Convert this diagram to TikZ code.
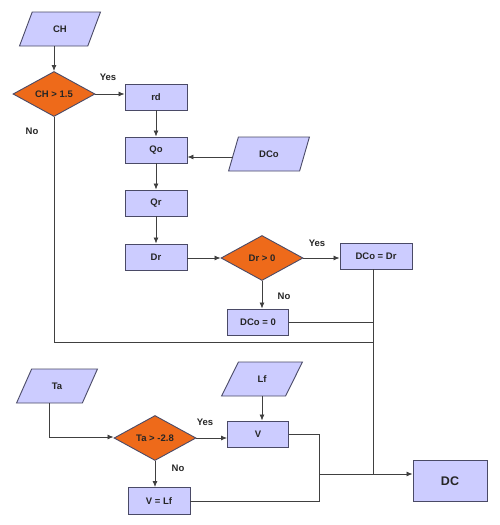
\documentclass[tikz,border=0pt]{standalone}
\usepackage{fontspec}
\setmainfont{Liberation Sans}
\usetikzlibrary{shapes.geometric,arrows.meta}
\definecolor{boxfill}{HTML}{CCCCFF}
\definecolor{boxline}{HTML}{4A4A66}
\definecolor{decfill}{HTML}{EE6A1A}
\definecolor{lineclr}{HTML}{404040}
\begin{document}
\begin{tikzpicture}[x=1pt,y=-1pt,
  every node/.style={font=\fontsize{9.5}{11}\selectfont\bfseries, text=black!85},
  procbox/.style={rectangle, draw=boxline, fill=boxfill, line width=0.9pt, minimum height=26pt, inner sep=0pt},
  iobox/.style={trapezium, trapezium left angle=65, trapezium right angle=115, trapezium stretches=true, draw=boxline, fill=boxfill, line width=0.9pt, minimum width=81pt, minimum height=34pt, inner sep=0pt},
  decbox/.style={diamond, aspect=2, draw=boxline, fill=decfill, line width=0.9pt, minimum width=82pt, minimum height=45pt, inner sep=0pt},
  conn/.style={draw=lineclr, line width=0.8pt},
  arr/.style={conn, -{Latex[length=6pt,width=5pt]}},
  lbl/.style={font=\fontsize{9.5}{11}\selectfont\bfseries, text=black!85}
]
\useasboundingbox (0,0) rectangle (500,525);

% top part
\node[iobox] (CH) at (60,29) {CH};
\node[decbox] (d1) at (54,94) {CH > 1.5};
\node[procbox, minimum width=62pt] (rd) at (156,97) {rd};
\node[procbox, minimum width=62pt] (Qo) at (156,150) {Qo};
\node[iobox] (DCo) at (269,154) {DCo};
\node[procbox, minimum width=62pt] (Qr) at (156,203) {Qr};
\node[procbox, minimum width=62pt] (Dr) at (156,257) {Dr};
\node[decbox] (d2) at (262,258) {Dr > 0};
\node[procbox, minimum width=72pt] (DCoDr) at (376,256) {DCo = Dr};
\node[procbox, minimum width=61pt] (DCo0) at (258,322) {DCo = 0};

% bottom part
\node[iobox] (Ta) at (57,386) {Ta};
\node[decbox] (d3) at (155,438) {Ta > -2.8};
\node[iobox] (Lf) at (262,379) {Lf};
\node[procbox, minimum width=61pt] (V) at (258,434) {V};
\node[procbox, minimum width=62pt, minimum height=27pt] (VLf) at (159,501) {V = Lf};
\node[procbox, minimum width=74pt, minimum height=41pt, font=\fontsize{12.5}{14}\selectfont\bfseries] (DC) at (450,481) {DC};

\coordinate (c1) at (54,342);
\coordinate (c2) at (373,342);
\coordinate (c3) at (373,322);
\coordinate (c4) at (373,474);
\coordinate (c5) at (319,434);
\coordinate (c6) at (319,501);
\coordinate (c7) at (319,474);
\coordinate (c8) at (49,437);

% connectors top
\draw[arr] (d1.north |- CH.south) -- (d1.north);
\draw[arr] (d1.east) -- (rd.west |- d1.east);
\node[lbl] (yes1) at (108,77) {Yes};
\draw[conn] (d1.south) -- (c1) -- (c2);
\node[lbl] (no1) at (32,131) {No};
\draw[arr] (rd.south) -- (Qo.north);
\draw[arr] (Qo.south) -- (Qr.north);
\draw[arr] (Qr.south) -- (Dr.north);
\draw[arr] (DCo.west |- 0,157) -- (Qo.east |- 0,157);
\draw[arr] (Dr.east |- d2.west) -- (d2.west);
\draw[arr] (d2.east) -- (DCoDr.west |- d2.east);
\node[lbl] (yes2) at (317,243) {Yes};
\draw[arr] (d2.south) -- (d2.south |- DCo0.north);
\node[lbl] (no2) at (284,296) {No};
\draw[conn] (DCo0.east) -- (c3);
\draw[conn] (c4 |- DCoDr.south) -- (c4);

% connectors bottom
\draw[conn] (c8 |- Ta.south) -- (c8);
\draw[arr] (c8) -- (d3.west |- c8);
\draw[arr] (d3.east) -- (V.west |- d3.east);
\node[lbl] (yes3) at (205,422) {Yes};
\draw[arr] (d3.south) -- (d3.south |- VLf.north);
\node[lbl] (no3) at (178,468) {No};
\draw[arr] (Lf.south) -- (Lf.south |- V.north);
\draw[conn] (V.east) -- (c5) -- (c6) -- (VLf.east |- c6);
\draw[arr] (c7) -- (DC.west |- c7);
\end{tikzpicture}
\end{document}
